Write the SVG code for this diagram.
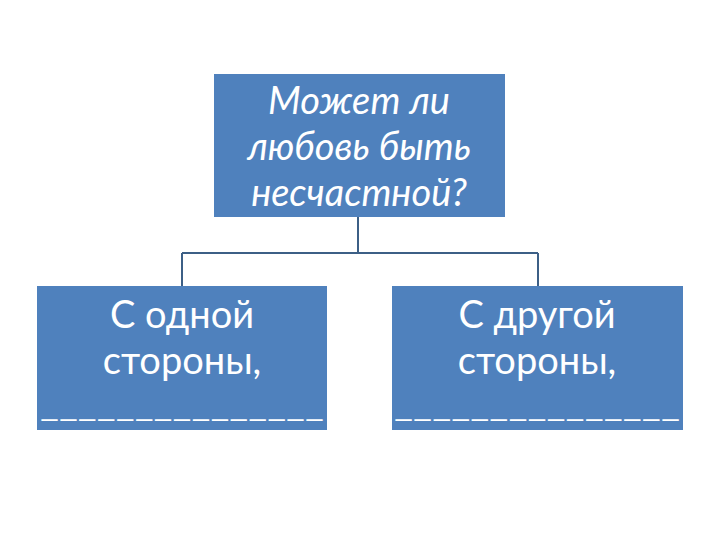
<svg xmlns="http://www.w3.org/2000/svg" width="720" height="540" viewBox="0 0 720 540">
<style>
.box{fill:#4F81BD;}
.t{fill:#FFFFFF;font-family:"Lato","Liberation Sans",sans-serif;font-size:38px;text-anchor:middle;}
.it{font-style:italic;}
.u{font-size:30px;}
.conn{stroke:#3C5F86;stroke-width:2;fill:none;}
</style>
<rect width="720" height="540" fill="#FFFFFF"/>
<g id="connectors">
<path class="conn" d="M358,217 V253 M182,253 H538 M182,253 V286 M538,253 V286"/>
</g>
<g id="top">
<rect class="box" x="214" y="74" width="291" height="143"/>
<text class="t it" x="359" y="114">Может ли</text>
<text class="t it" x="359" y="160">любовь быть</text>
<text class="t it" x="359" y="206">несчастной?</text>
</g>
<g id="left">
<rect class="box" x="37" y="286" width="290" height="144"/>
<text class="t" x="182" y="328">С одной</text>
<text class="t" x="182" y="374">стороны,</text>
<text class="t u" x="182" y="417" textLength="284" lengthAdjust="spacingAndGlyphs">_______________</text>
</g>
<g id="right">
<rect class="box" x="392" y="286" width="291" height="144"/>
<text class="t" x="537" y="328">С другой</text>
<text class="t" x="537" y="374">стороны,</text>
<text class="t u" x="537" y="417" textLength="286" lengthAdjust="spacingAndGlyphs">_______________</text>
</g>
</svg>
